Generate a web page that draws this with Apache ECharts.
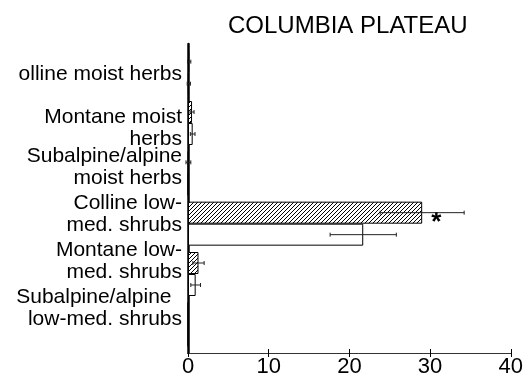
<!DOCTYPE html>
<html>
<head>
<meta charset="utf-8">
<script src="https://cdn.jsdelivr.net/npm/echarts@6/dist/echarts.min.js"></script>
<style>
  html, body { margin: 0; padding: 0; background: #fff; }
  #chart { width: 526px; height: 381px; }
</style>
</head>
<body>
<div id="chart"></div>
<script>
// Habitat groups (top to bottom)
const categories = [
  'olline moist herbs',
  'Montane moist\nherbs',
  'Subalpine/alpine\nmoist herbs',
  'Colline low-\nmed. shrubs',
  'Montane low-\nmed. shrubs',
  'Subalpine/alpine\u2002\nlow-med. shrubs'
];
// Hatched series and its standard errors
const hatchedValues = [0.15, 0.5, 0.05, 29.0, 1.3, 0.0];
const hatchedErrors = [0.2, 0.25, 0.3, 5.2, 0.7, 0.0];
// Open series and its standard errors
const openValues = [0.1, 0.58, 0.0, 21.7, 0.95, 0.0];
const openErrors = [0.2, 0.29, 0.0, 4.1, 0.6, 0.0];
// Significance markers drawn next to the hatched bars
const significance = ['', '', '', '*', '', ''];
const xTicks = [0, 10, 20, 30, 40];

const FONT = 'Liberation Sans, Arial, Helvetica, sans-serif';
const CAT_GAP = 0.126;

// Diagonal hatch fill
function hatchPattern() {
  const n = 4;
  const c = document.createElement('canvas');
  c.width = n; c.height = n;
  const g = c.getContext('2d');
  g.fillStyle = '#fff';
  g.fillRect(0, 0, n, n);
  g.strokeStyle = '#000';
  g.lineWidth = 1;
  g.beginPath();
  g.moveTo(-1, n + 1); g.lineTo(n + 1, -1);
  g.moveTo(-1, 1); g.lineTo(1, -1);
  g.moveTo(n - 1, n + 1); g.lineTo(n + 1, n - 1);
  g.stroke();
  return c;
}

const chart = echarts.init(document.getElementById('chart'), null, { renderer: 'canvas' });

function errorBarSeries(values, errors, side) {
  return {
    type: 'custom',
    coordinateSystem: 'cartesian2d',
    xAxisIndex: 2,
    yAxisIndex: 2,
    z: 5,
    silent: true,
    data: values.map((v, i) => [v, i, errors[i]]),
    renderItem: function (params, api) {
      const v = api.value(0), i = api.value(1), e = api.value(2);
      const band = api.size([0, 1])[1];
      const barW = band * (1 - CAT_GAP) / 2;
      const c0 = api.coord([v - e, i]);
      const c1 = api.coord([v + e, i]);
      const y = c0[1] + side * barW / 2;
      const cap = 2;
      const style = { stroke: '#222', lineWidth: 1 };
      return {
        type: 'group',
        children: e ? [
          { type: 'line', shape: { x1: c0[0], y1: y, x2: c1[0], y2: y }, style: style },
          { type: 'line', shape: { x1: c0[0], y1: y - cap, x2: c0[0], y2: y + cap }, style: style },
          { type: 'line', shape: { x1: c1[0], y1: y - cap, x2: c1[0], y2: y + cap }, style: style }
        ] : []
      };
    }
  };
}

// the second label is nudged down by a small spacer line
function categoryLabel(value, index) {
  if (index !== 1) return value;
  return '{gap| }\n' + value.split('\n').map(s => '{txt|' + s + '}').join('\n');
}

const option = {
  animation: false,
  backgroundColor: '#fff',
  title: {
    text: 'COLUMBIA PLATEAU',
    left: 223,
    top: 9,
    textStyle: { fontFamily: FONT, fontSize: 24, fontWeight: 'normal', color: '#000' }
  },
  grid: [
    // frame with the value scale
    { left: 188, right: 15, top: 44, bottom: 28 },
    // bars
    { left: 188, right: 15, top: 47.5, bottom: 31.5 },
    // category labels
    { left: 188, right: 15, top: 50.6, bottom: 49.6 }
  ],
  xAxis: [
    {
      gridIndex: 0, type: 'value', position: 'bottom', min: 0, max: 40, interval: 10,
      axisLine: { show: true, lineStyle: { color: '#000', width: 1 } },
      axisTick: { show: true, inside: true, length: 4, lineStyle: { color: '#000' } },
      axisLabel: {
        show: true, margin: 3, color: '#000', fontFamily: FONT, fontSize: 22,
        formatter: v => (xTicks.indexOf(v) >= 0 ? String(v) : '')
      },
      splitLine: { show: false }
    },
    {
      gridIndex: 0, type: 'value', position: 'top', min: 0, max: 40, interval: 10,
      axisLine: { show: true, lineStyle: { color: '#333', width: 1 } },
      axisTick: { show: true, inside: true, length: 4, lineStyle: { color: '#000' } },
      axisLabel: { show: false },
      splitLine: { show: false }
    },
    {
      gridIndex: 1, type: 'value', min: 0, max: 40, show: false
    },
    {
      gridIndex: 2, type: 'value', min: 0, max: 40, show: false
    }
  ],
  yAxis: [
    {
      gridIndex: 0, type: 'value', position: 'left', min: 0, max: 1,
      axisLine: { show: true, lineStyle: { color: '#000', width: 2.5 } },
      axisTick: { show: false }, axisLabel: { show: false }, splitLine: { show: false }
    },
    {
      gridIndex: 0, type: 'value', position: 'right', min: 0, max: 1,
      axisLine: { show: true, lineStyle: { color: '#000', width: 1 } },
      axisTick: { show: false }, axisLabel: { show: false }, splitLine: { show: false }
    },
    {
      gridIndex: 1, type: 'category', data: categories, inverse: true, show: false
    },
    {
      gridIndex: 2, type: 'category', data: categories, inverse: true,
      axisLine: { show: false }, axisTick: { show: false },
      axisLabel: {
        show: true, margin: 6, color: '#000', fontFamily: FONT, fontSize: 21,
        lineHeight: 22, align: 'right',
        formatter: categoryLabel,
        rich: {
          gap: { fontSize: 1, lineHeight: 14 },
          txt: { fontFamily: FONT, fontSize: 21, lineHeight: 22, color: '#000' }
        }
      }
    }
  ],
  series: [
    {
      name: 'hatched',
      type: 'bar',
      xAxisIndex: 2, yAxisIndex: 2,
      barGap: '0%',
      barCategoryGap: (CAT_GAP * 100) + '%',
      itemStyle: {
        color: { image: hatchPattern(), repeat: 'repeat' },
        borderColor: '#000', borderWidth: 1
      },
      data: hatchedValues.map((v, i) => significance[i] ? {
        value: v,
        label: {
          show: true, position: 'right', distance: 9, offset: [0, 10],
          formatter: significance[i], color: '#000', fontFamily: FONT,
          fontSize: 26, fontWeight: 'bold'
        }
      } : v)
    },
    {
      name: 'open',
      type: 'bar',
      xAxisIndex: 2, yAxisIndex: 2,
      barGap: '0%',
      barCategoryGap: (CAT_GAP * 100) + '%',
      itemStyle: { color: '#fff', borderColor: '#000', borderWidth: 1 },
      data: openValues
    },
    errorBarSeries(hatchedValues, hatchedErrors, -1),
    errorBarSeries(openValues, openErrors, 1)
  ]
};

chart.setOption(option);
</script>
</body>
</html>
